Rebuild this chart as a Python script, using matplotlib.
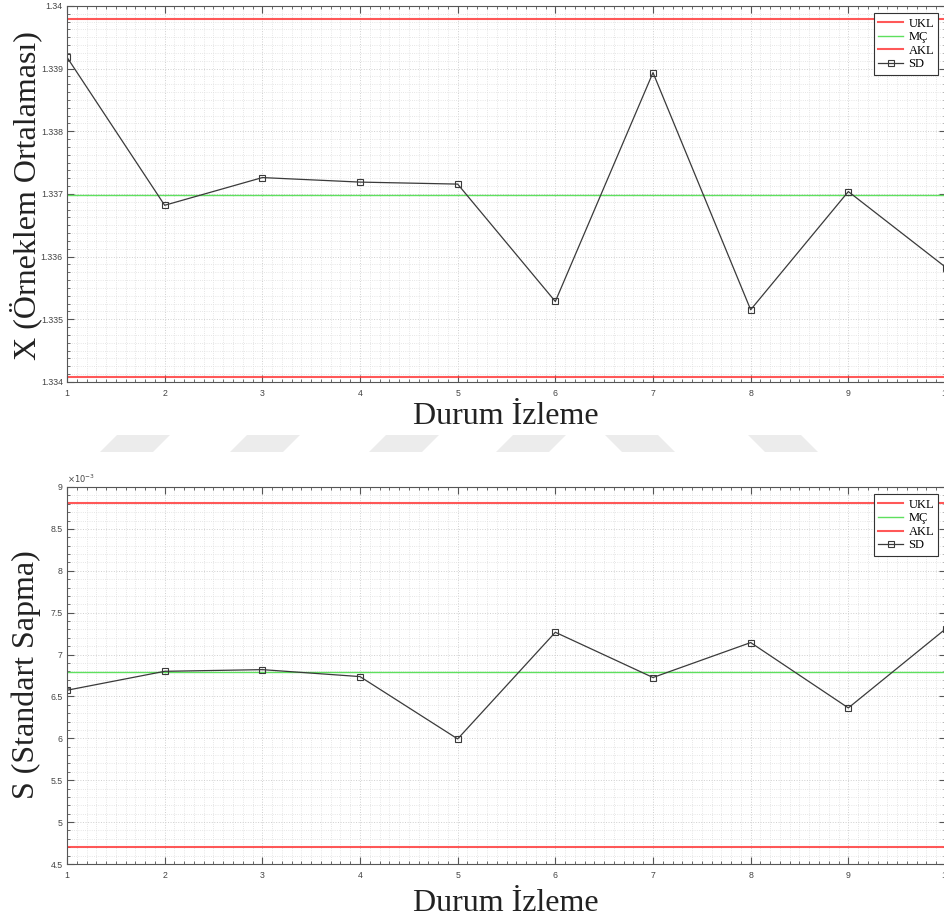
import matplotlib
matplotlib.use("Agg")
import matplotlib.pyplot as plt
from matplotlib.ticker import MultipleLocator, FuncFormatter
from matplotlib.patches import Polygon

# Monitoring steps
steps = [1, 2, 3, 4, 5, 6, 7, 8, 9, 10]

# Sample means (X chart)
x_means = [1.339182, 1.336820, 1.337262, 1.337190, 1.337158,
           1.335285, 1.338937, 1.335153, 1.337039, 1.335827]
x_ukl = 1.339793
x_mc = 1.336986
x_akl = 1.334078

# Sample standard deviations (S chart)
s_vals = [6.574e-3, 6.800e-3, 6.820e-3, 6.737e-3, 5.993e-3,
          7.266e-3, 6.726e-3, 7.143e-3, 6.363e-3, 7.310e-3]
s_ukl = 8.805e-3
s_mc = 6.797e-3
s_akl = 4.700e-3

xlabel_text = "Durum İzleme"
x_ylabel = "X (Örneklem Ortalaması)"
s_ylabel = "S (Standart Sapma)"
legend_labels = ["UKL", "MÇ", "AKL", "SD"]

W, H = 945, 922
fig = plt.figure(figsize=(W / 100, H / 100), dpi=100)

serif = ["Liberation Serif", "DejaVu Serif"]
sans = ["Liberation Sans", "DejaVu Sans"]
tick_col = "#555555"


def px_rect(left, top, right, bottom):
    return [left / W, 1 - bottom / H, (right - left) / W, (bottom - top) / H]


def style_axes(ax):
    for sp in ax.spines.values():
        sp.set_color(tick_col)
        sp.set_linewidth(0.8)
    ax.tick_params(which="both", direction="in", top=True, right=True,
                   colors=tick_col, labelcolor="#444444", labelsize=6.3)
    ax.tick_params(which="major", length=5, width=0.8, pad=3)
    ax.tick_params(axis="x", which="major", pad=5)
    ax.tick_params(which="minor", length=2.5, width=0.6)
    for lab in ax.get_xticklabels() + ax.get_yticklabels():
        lab.set_family(sans)
    ax.grid(True, which="major", color="#cfcfcf", linestyle=":", linewidth=0.7)
    ax.grid(True, which="minor", color="#dedede", linestyle=":", linewidth=0.6)
    ax.set_axisbelow(True)


def draw_chart(ax, values, ukl, mc, akl):
    ax.plot(steps, [ukl] * len(steps), color="#ff3b3b", lw=1.5, alpha=0.85,
            label=legend_labels[0])
    ax.plot(steps, [mc] * len(steps), color="#5ee05e", lw=1.0,
            label=legend_labels[1])
    ax.plot(steps, [akl] * len(steps), color="#ff3b3b", lw=1.5, alpha=0.85,
            label=legend_labels[2])
    ax.plot(steps, values, color="#3a3a3a", lw=0.9, marker="s", ms=4,
            mfc="none", mec="#3a3a3a", mew=0.8, label=legend_labels[3])
    leg = ax.legend(loc="upper right", prop={"family": serif, "size": 9},
                    fancybox=False, framealpha=1, edgecolor="#333333",
                    borderaxespad=0.6, handlelength=2.0, handletextpad=0.4,
                    labelspacing=0.12, borderpad=0.35)
    leg.get_frame().set_linewidth(0.8)


# X chart
ax1 = fig.add_axes(px_rect(67, 6, 946, 382))
draw_chart(ax1, x_means, x_ukl, x_mc, x_akl)
ax1.set_xlim(1, 10)
ax1.set_ylim(1.334, 1.340)
ax1.xaxis.set_major_locator(MultipleLocator(1))
ax1.xaxis.set_minor_locator(MultipleLocator(0.1))
ax1.yaxis.set_major_locator(MultipleLocator(0.001))
ax1.yaxis.set_minor_locator(MultipleLocator(0.000125))
ax1.yaxis.set_major_formatter(FuncFormatter(lambda v, p: f"{v:.4g}"))
style_axes(ax1)

# S chart
ax2 = fig.add_axes(px_rect(67, 487, 946, 864))
draw_chart(ax2, s_vals, s_ukl, s_mc, s_akl)
ax2.set_xlim(1, 10)
ax2.set_ylim(4.5e-3, 9e-3)
ax2.xaxis.set_major_locator(MultipleLocator(1))
ax2.xaxis.set_minor_locator(MultipleLocator(0.1))
ax2.yaxis.set_major_locator(MultipleLocator(0.5e-3))
ax2.yaxis.set_minor_locator(MultipleLocator(0.1e-3))
ax2.yaxis.set_major_formatter(FuncFormatter(lambda v, p: f"{v * 1e3:g}"))
style_axes(ax2)
ax2.text(0.0, 1.004, r"$\times10^{-3}$", transform=ax2.transAxes,
         fontsize=6, color="#444444", ha="left", va="bottom")

# Axis titles
fig.text(506 / W, 1 - 417 / H, xlabel_text, family=serif, fontsize=23,
         color="#222222", ha="center", va="center")
fig.text(506 / W, 1 - 903 / H, xlabel_text, family=serif, fontsize=23,
         color="#222222", ha="center", va="center")
fig.text(26 / W, 1 - 196 / H, x_ylabel, family=serif, fontsize=23,
         color="#222222", rotation=90, ha="center", va="center")
fig.text(26 / W, 1 - 675 / H, s_ylabel, family=serif, fontsize=23,
         color="#222222", rotation=90, ha="center", va="center")

# Light-gray slanted stripes between the two panels
band_top, band_bot, slant, width = 435, 452, 17, 53
for x0, lean in [(100, 1), (230, 1), (369, 1), (496, 1), (605, -1), (748, -1)]:
    if lean > 0:
        pts = [(x0, band_bot), (x0 + width, band_bot),
               (x0 + width + slant, band_top), (x0 + slant, band_top)]
    else:
        pts = [(x0 + slant, band_bot), (x0 + width + slant, band_bot),
               (x0 + width, band_top), (x0, band_top)]
    fig.patches.append(Polygon([(x / W, 1 - y / H) for x, y in pts],
                               closed=True, transform=fig.transFigure,
                               facecolor="#ececec", edgecolor="none",
                               zorder=0))

fig.savefig("out.png", dpi=100, facecolor="white")
